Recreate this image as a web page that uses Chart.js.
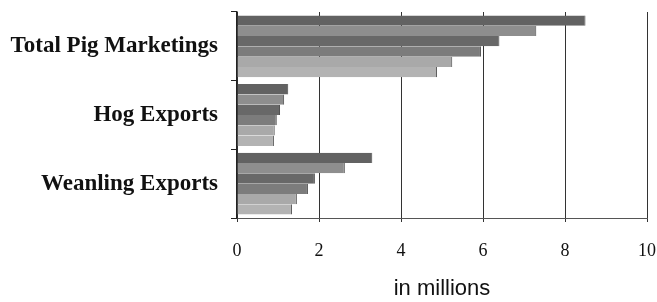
<!DOCTYPE html>
<html>
<head>
<meta charset="utf-8">
<script src="https://cdn.jsdelivr.net/npm/chart.js@4"></script>
<style>
  html, body { margin: 0; padding: 0; background: #fff; }
  #wrap { width: 657px; height: 302px; position: relative; }
</style>
</head>
<body>
<div id="wrap"><canvas id="c" width="657" height="302"></canvas></div>
<script>
// Categories (top to bottom)
const categories = ["Total Pig Marketings", "Hog Exports", "Weanling Exports"];
// Six series, drawn top to bottom inside each category (values in millions)
const series1 = [8.5, 1.25, 3.3];
const series2 = [7.3, 1.15, 2.63];
const series3 = [6.4, 1.05, 1.9];
const series4 = [5.95, 0.97, 1.73];
const series5 = [5.25, 0.92, 1.46];
const series6 = [4.88, 0.9, 1.34];
const seriesNames = ["Series 1", "Series 2", "Series 3", "Series 4", "Series 5", "Series 6"];
const seriesColors = ["#626262", "#8e8e8e", "#686868", "#7c7c7c", "#a9a9a9", "#b3b3b3"];
const xTicks = [0, 2, 4, 6, 8, 10];
const xTitle = "in millions";

const allSeries = [series1, series2, series3, series4, series5, series6];

new Chart(document.getElementById('c'), {
  type: 'bar',
  data: {
    labels: categories,
    datasets: allSeries.map((d, i) => ({
      label: seriesNames[i],
      data: d,
      backgroundColor: seriesColors[i],
      borderColor: '#4a4a4a',
      borderWidth: {top: 0, bottom: 0, left: 0, right: 1},
      categoryPercentage: 0.9,
      barPercentage: 1.0
    }))
  },
  options: {
    indexAxis: 'y',
    responsive: false,
    animation: false,
    devicePixelRatio: 1,
    layout: { padding: { top: 12, right: 10, left: 0, bottom: 0 } },
    plugins: { legend: { display: false }, tooltip: { enabled: false } },
    scales: {
      x: {
        min: 0, max: 10,
        afterBuildTicks: (s) => { s.ticks = xTicks.map(v => ({ value: v })); },
        afterFit: (s) => { s.height = 84; s.paddingLeft = 0; s.paddingRight = 0; },
        grid: { color: '#333', lineWidth: 1, tickLength: 4, drawTicks: true },
        border: { display: true, color: '#555', width: 1 },
        ticks: {
          padding: 18,
          color: '#111',
          font: { family: 'Liberation Serif', size: 18 }
        },
        title: {
          display: true,
          text: xTitle,
          color: '#111',
          font: { family: 'Liberation Sans', size: 22 },
          padding: { top: 0, bottom: 0 }
        }
      },
      y: {
        afterFit: (s) => { s.width = 237; s.paddingTop = 0; s.paddingBottom = 0; },
        grid: { display: true, drawOnChartArea: false, tickLength: 6, color: '#222', offset: true },
        border: { display: true, color: '#222', width: 1.5 },
        ticks: {
          padding: 13,
          color: '#111',
          font: { family: 'Liberation Serif', size: 23, weight: 'bold' }
        }
      }
    }
  }
});
</script>
</body>
</html>
